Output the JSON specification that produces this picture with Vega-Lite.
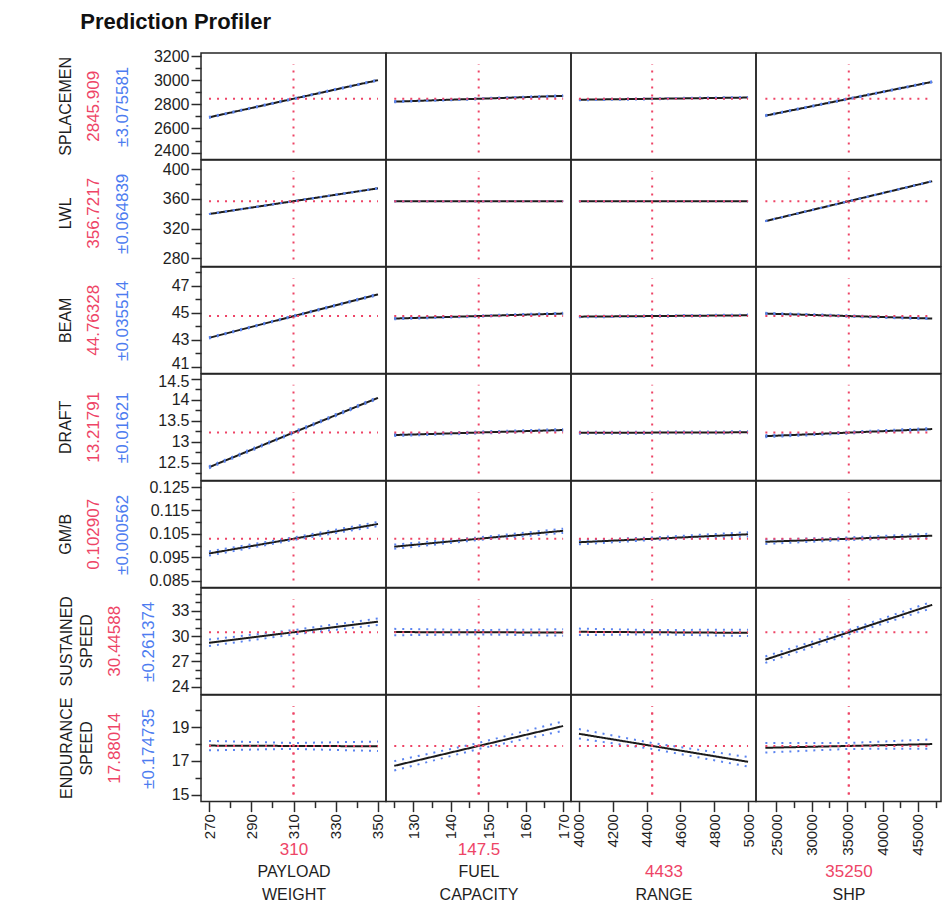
{
"$schema":"https://vega.github.io/schema/vega-lite/v6.json",
"padding":{"left":57,"top":11,"right":4,"bottom":4},
"background":"#ffffff",
"title":{"text":"Prediction Profiler","anchor":"start","frame":"bounds","fontSize":22,"fontWeight":"bold","color":"#111111","offset":13,"dx":23},
"data":{"values":[
{"r":"DI","c":"PW","k":"fit","x":270,"y":2692},{"r":"DI","c":"PW","k":"fit","x":350,"y":3000},
{"r":"DI","c":"PW","k":"lower","x":270,"y":2687.4},{"r":"DI","c":"PW","k":"lower","x":350,"y":2995.4},
{"r":"DI","c":"PW","k":"upper","x":270,"y":2696.6},{"r":"DI","c":"PW","k":"upper","x":350,"y":3004.6},
{"r":"DI","c":"PW","k":"vline","x":310,"y":2400},{"r":"DI","c":"PW","k":"vline","x":310,"y":3134},
{"r":"DI","c":"PW","k":"hline","x":270,"y":2845.909},{"r":"DI","c":"PW","k":"hline","x":350,"y":2845.909},
{"r":"DI","c":"FC","k":"fit","x":125,"y":2822},{"r":"DI","c":"FC","k":"fit","x":170,"y":2870},
{"r":"DI","c":"FC","k":"lower","x":125,"y":2817.4},{"r":"DI","c":"FC","k":"lower","x":170,"y":2865.4},
{"r":"DI","c":"FC","k":"upper","x":125,"y":2826.6},{"r":"DI","c":"FC","k":"upper","x":170,"y":2874.6},
{"r":"DI","c":"FC","k":"vline","x":147.5,"y":2400},{"r":"DI","c":"FC","k":"vline","x":147.5,"y":3134},
{"r":"DI","c":"FC","k":"hline","x":125,"y":2845.909},{"r":"DI","c":"FC","k":"hline","x":170,"y":2845.909},
{"r":"DI","c":"RA","k":"fit","x":4000,"y":2838},{"r":"DI","c":"RA","k":"fit","x":5000,"y":2856},
{"r":"DI","c":"RA","k":"lower","x":4000,"y":2833.4},{"r":"DI","c":"RA","k":"lower","x":5000,"y":2851.4},
{"r":"DI","c":"RA","k":"upper","x":4000,"y":2842.6},{"r":"DI","c":"RA","k":"upper","x":5000,"y":2860.6},
{"r":"DI","c":"RA","k":"vline","x":4433,"y":2400},{"r":"DI","c":"RA","k":"vline","x":4433,"y":3134},
{"r":"DI","c":"RA","k":"hline","x":4000,"y":2845.909},{"r":"DI","c":"RA","k":"hline","x":5000,"y":2845.909},
{"r":"DI","c":"SH","k":"fit","x":23500,"y":2706},{"r":"DI","c":"SH","k":"fit","x":47000,"y":2986},
{"r":"DI","c":"SH","k":"lower","x":23500,"y":2701.4},{"r":"DI","c":"SH","k":"lower","x":47000,"y":2981.4},
{"r":"DI","c":"SH","k":"upper","x":23500,"y":2710.6},{"r":"DI","c":"SH","k":"upper","x":47000,"y":2990.6},
{"r":"DI","c":"SH","k":"vline","x":35250,"y":2400},{"r":"DI","c":"SH","k":"vline","x":35250,"y":3134},
{"r":"DI","c":"SH","k":"hline","x":23500,"y":2845.909},{"r":"DI","c":"SH","k":"hline","x":47000,"y":2845.909},

{"r":"LW","c":"PW","k":"fit","x":270,"y":339.5},{"r":"LW","c":"PW","k":"fit","x":350,"y":374},
{"r":"LW","c":"PW","k":"lower","x":270,"y":339.4},{"r":"LW","c":"PW","k":"lower","x":350,"y":373.9},
{"r":"LW","c":"PW","k":"upper","x":270,"y":339.6},{"r":"LW","c":"PW","k":"upper","x":350,"y":374.1},
{"r":"LW","c":"PW","k":"vline","x":310,"y":278.4},{"r":"LW","c":"PW","k":"vline","x":310,"y":397.2},
{"r":"LW","c":"PW","k":"hline","x":270,"y":356.7217},{"r":"LW","c":"PW","k":"hline","x":350,"y":356.7217},
{"r":"LW","c":"FC","k":"fit","x":125,"y":356.7},{"r":"LW","c":"FC","k":"fit","x":170,"y":356.75},
{"r":"LW","c":"FC","k":"lower","x":125,"y":356.6},{"r":"LW","c":"FC","k":"lower","x":170,"y":356.65},
{"r":"LW","c":"FC","k":"upper","x":125,"y":356.8},{"r":"LW","c":"FC","k":"upper","x":170,"y":356.85},
{"r":"LW","c":"FC","k":"vline","x":147.5,"y":278.4},{"r":"LW","c":"FC","k":"vline","x":147.5,"y":397.2},
{"r":"LW","c":"FC","k":"hline","x":125,"y":356.7217},{"r":"LW","c":"FC","k":"hline","x":170,"y":356.7217},
{"r":"LW","c":"RA","k":"fit","x":4000,"y":356.72},{"r":"LW","c":"RA","k":"fit","x":5000,"y":356.72},
{"r":"LW","c":"RA","k":"lower","x":4000,"y":356.62},{"r":"LW","c":"RA","k":"lower","x":5000,"y":356.62},
{"r":"LW","c":"RA","k":"upper","x":4000,"y":356.82},{"r":"LW","c":"RA","k":"upper","x":5000,"y":356.82},
{"r":"LW","c":"RA","k":"vline","x":4433,"y":278.4},{"r":"LW","c":"RA","k":"vline","x":4433,"y":397.2},
{"r":"LW","c":"RA","k":"hline","x":4000,"y":356.7217},{"r":"LW","c":"RA","k":"hline","x":5000,"y":356.7217},
{"r":"LW","c":"SH","k":"fit","x":23500,"y":330},{"r":"LW","c":"SH","k":"fit","x":47000,"y":383.5},
{"r":"LW","c":"SH","k":"lower","x":23500,"y":329.9},{"r":"LW","c":"SH","k":"lower","x":47000,"y":383.4},
{"r":"LW","c":"SH","k":"upper","x":23500,"y":330.1},{"r":"LW","c":"SH","k":"upper","x":47000,"y":383.6},
{"r":"LW","c":"SH","k":"vline","x":35250,"y":278.4},{"r":"LW","c":"SH","k":"vline","x":35250,"y":397.2},
{"r":"LW","c":"SH","k":"hline","x":23500,"y":356.7217},{"r":"LW","c":"SH","k":"hline","x":47000,"y":356.7217},

{"r":"BE","c":"PW","k":"fit","x":270,"y":43.15},{"r":"BE","c":"PW","k":"fit","x":350,"y":46.37},
{"r":"BE","c":"PW","k":"lower","x":270,"y":43.097},{"r":"BE","c":"PW","k":"lower","x":350,"y":46.317},
{"r":"BE","c":"PW","k":"upper","x":270,"y":43.203},{"r":"BE","c":"PW","k":"upper","x":350,"y":46.423},
{"r":"BE","c":"PW","k":"vline","x":310,"y":41.02},{"r":"BE","c":"PW","k":"vline","x":310,"y":47.58},
{"r":"BE","c":"PW","k":"hline","x":270,"y":44.76328},{"r":"BE","c":"PW","k":"hline","x":350,"y":44.76328},
{"r":"BE","c":"FC","k":"fit","x":125,"y":44.58},{"r":"BE","c":"FC","k":"fit","x":170,"y":44.95},
{"r":"BE","c":"FC","k":"lower","x":125,"y":44.527},{"r":"BE","c":"FC","k":"lower","x":170,"y":44.897},
{"r":"BE","c":"FC","k":"upper","x":125,"y":44.633},{"r":"BE","c":"FC","k":"upper","x":170,"y":45.003},
{"r":"BE","c":"FC","k":"vline","x":147.5,"y":41.02},{"r":"BE","c":"FC","k":"vline","x":147.5,"y":47.58},
{"r":"BE","c":"FC","k":"hline","x":125,"y":44.76328},{"r":"BE","c":"FC","k":"hline","x":170,"y":44.76328},
{"r":"BE","c":"RA","k":"fit","x":4000,"y":44.72},{"r":"BE","c":"RA","k":"fit","x":5000,"y":44.82},
{"r":"BE","c":"RA","k":"lower","x":4000,"y":44.667},{"r":"BE","c":"RA","k":"lower","x":5000,"y":44.767},
{"r":"BE","c":"RA","k":"upper","x":4000,"y":44.773},{"r":"BE","c":"RA","k":"upper","x":5000,"y":44.873},
{"r":"BE","c":"RA","k":"vline","x":4433,"y":41.02},{"r":"BE","c":"RA","k":"vline","x":4433,"y":47.58},
{"r":"BE","c":"RA","k":"hline","x":4000,"y":44.76328},{"r":"BE","c":"RA","k":"hline","x":5000,"y":44.76328},
{"r":"BE","c":"SH","k":"fit","x":23500,"y":44.95},{"r":"BE","c":"SH","k":"fit","x":47000,"y":44.58},
{"r":"BE","c":"SH","k":"lower","x":23500,"y":44.897},{"r":"BE","c":"SH","k":"lower","x":47000,"y":44.527},
{"r":"BE","c":"SH","k":"upper","x":23500,"y":45.003},{"r":"BE","c":"SH","k":"upper","x":47000,"y":44.633},
{"r":"BE","c":"SH","k":"vline","x":35250,"y":41.02},{"r":"BE","c":"SH","k":"vline","x":35250,"y":47.58},
{"r":"BE","c":"SH","k":"hline","x":23500,"y":44.76328},{"r":"BE","c":"SH","k":"hline","x":47000,"y":44.76328},

{"r":"DR","c":"PW","k":"fit","x":270,"y":12.39},{"r":"DR","c":"PW","k":"fit","x":350,"y":14.05},
{"r":"DR","c":"PW","k":"lower","x":270,"y":12.366},{"r":"DR","c":"PW","k":"lower","x":350,"y":14.026},
{"r":"DR","c":"PW","k":"upper","x":270,"y":12.414},{"r":"DR","c":"PW","k":"upper","x":350,"y":14.074},
{"r":"DR","c":"PW","k":"vline","x":310,"y":12.24},{"r":"DR","c":"PW","k":"vline","x":310,"y":14.36},
{"r":"DR","c":"PW","k":"hline","x":270,"y":13.21791},{"r":"DR","c":"PW","k":"hline","x":350,"y":13.21791},
{"r":"DR","c":"FC","k":"fit","x":125,"y":13.16},{"r":"DR","c":"FC","k":"fit","x":170,"y":13.28},
{"r":"DR","c":"FC","k":"lower","x":125,"y":13.136},{"r":"DR","c":"FC","k":"lower","x":170,"y":13.256},
{"r":"DR","c":"FC","k":"upper","x":125,"y":13.184},{"r":"DR","c":"FC","k":"upper","x":170,"y":13.304},
{"r":"DR","c":"FC","k":"vline","x":147.5,"y":12.24},{"r":"DR","c":"FC","k":"vline","x":147.5,"y":14.36},
{"r":"DR","c":"FC","k":"hline","x":125,"y":13.21791},{"r":"DR","c":"FC","k":"hline","x":170,"y":13.21791},
{"r":"DR","c":"RA","k":"fit","x":4000,"y":13.212},{"r":"DR","c":"RA","k":"fit","x":5000,"y":13.225},
{"r":"DR","c":"RA","k":"lower","x":4000,"y":13.188},{"r":"DR","c":"RA","k":"lower","x":5000,"y":13.201},
{"r":"DR","c":"RA","k":"upper","x":4000,"y":13.236},{"r":"DR","c":"RA","k":"upper","x":5000,"y":13.249},
{"r":"DR","c":"RA","k":"vline","x":4433,"y":12.24},{"r":"DR","c":"RA","k":"vline","x":4433,"y":14.36},
{"r":"DR","c":"RA","k":"hline","x":4000,"y":13.21791},{"r":"DR","c":"RA","k":"hline","x":5000,"y":13.21791},
{"r":"DR","c":"SH","k":"fit","x":23500,"y":13.133},{"r":"DR","c":"SH","k":"fit","x":47000,"y":13.303},
{"r":"DR","c":"SH","k":"lower","x":23500,"y":13.109},{"r":"DR","c":"SH","k":"lower","x":47000,"y":13.279},
{"r":"DR","c":"SH","k":"upper","x":23500,"y":13.157},{"r":"DR","c":"SH","k":"upper","x":47000,"y":13.327},
{"r":"DR","c":"SH","k":"vline","x":35250,"y":12.24},{"r":"DR","c":"SH","k":"vline","x":35250,"y":14.36},
{"r":"DR","c":"SH","k":"hline","x":23500,"y":13.21791},{"r":"DR","c":"SH","k":"hline","x":47000,"y":13.21791},

{"r":"GM","c":"PW","k":"fit","x":270,"y":0.0966},{"r":"GM","c":"PW","k":"fit","x":350,"y":0.1092},
{"r":"GM","c":"PW","k":"lower","x":270,"y":0.0957},{"r":"GM","c":"PW","k":"lower","x":310,"y":0.10235},{"r":"GM","c":"PW","k":"lower","x":350,"y":0.1083},
{"r":"GM","c":"PW","k":"upper","x":270,"y":0.0975},{"r":"GM","c":"PW","k":"upper","x":310,"y":0.10347},{"r":"GM","c":"PW","k":"upper","x":350,"y":0.1101},
{"r":"GM","c":"PW","k":"vline","x":310,"y":0.085},{"r":"GM","c":"PW","k":"vline","x":310,"y":0.1229},
{"r":"GM","c":"PW","k":"hline","x":270,"y":0.102907},{"r":"GM","c":"PW","k":"hline","x":350,"y":0.102907},
{"r":"GM","c":"FC","k":"fit","x":125,"y":0.0995},{"r":"GM","c":"FC","k":"fit","x":170,"y":0.1063},
{"r":"GM","c":"FC","k":"lower","x":125,"y":0.0986},{"r":"GM","c":"FC","k":"lower","x":147.5,"y":0.10235},{"r":"GM","c":"FC","k":"lower","x":170,"y":0.1054},
{"r":"GM","c":"FC","k":"upper","x":125,"y":0.1004},{"r":"GM","c":"FC","k":"upper","x":147.5,"y":0.10347},{"r":"GM","c":"FC","k":"upper","x":170,"y":0.1072},
{"r":"GM","c":"FC","k":"vline","x":147.5,"y":0.085},{"r":"GM","c":"FC","k":"vline","x":147.5,"y":0.1229},
{"r":"GM","c":"FC","k":"hline","x":125,"y":0.102907},{"r":"GM","c":"FC","k":"hline","x":170,"y":0.102907},
{"r":"GM","c":"RA","k":"fit","x":4000,"y":0.1014},{"r":"GM","c":"RA","k":"fit","x":5000,"y":0.1048},
{"r":"GM","c":"RA","k":"lower","x":4000,"y":0.1005},{"r":"GM","c":"RA","k":"lower","x":4433,"y":0.10235},{"r":"GM","c":"RA","k":"lower","x":5000,"y":0.1039},
{"r":"GM","c":"RA","k":"upper","x":4000,"y":0.1023},{"r":"GM","c":"RA","k":"upper","x":4433,"y":0.10347},{"r":"GM","c":"RA","k":"upper","x":5000,"y":0.1057},
{"r":"GM","c":"RA","k":"vline","x":4433,"y":0.085},{"r":"GM","c":"RA","k":"vline","x":4433,"y":0.1229},
{"r":"GM","c":"RA","k":"hline","x":4000,"y":0.102907},{"r":"GM","c":"RA","k":"hline","x":5000,"y":0.102907},
{"r":"GM","c":"SH","k":"fit","x":23500,"y":0.1016},{"r":"GM","c":"SH","k":"fit","x":47000,"y":0.1042},
{"r":"GM","c":"SH","k":"lower","x":23500,"y":0.1007},{"r":"GM","c":"SH","k":"lower","x":35250,"y":0.10235},{"r":"GM","c":"SH","k":"lower","x":47000,"y":0.1033},
{"r":"GM","c":"SH","k":"upper","x":23500,"y":0.1025},{"r":"GM","c":"SH","k":"upper","x":35250,"y":0.10347},{"r":"GM","c":"SH","k":"upper","x":47000,"y":0.1051},
{"r":"GM","c":"SH","k":"vline","x":35250,"y":0.085},{"r":"GM","c":"SH","k":"vline","x":35250,"y":0.1229},
{"r":"GM","c":"SH","k":"hline","x":23500,"y":0.102907},{"r":"GM","c":"SH","k":"hline","x":47000,"y":0.102907},

{"r":"SS","c":"PW","k":"fit","x":270,"y":29.2},{"r":"SS","c":"PW","k":"fit","x":350,"y":31.7},
{"r":"SS","c":"PW","k":"lower","x":270,"y":28.82},{"r":"SS","c":"PW","k":"lower","x":310,"y":30.19},{"r":"SS","c":"PW","k":"lower","x":350,"y":31.32},
{"r":"SS","c":"PW","k":"upper","x":270,"y":29.58},{"r":"SS","c":"PW","k":"upper","x":310,"y":30.71},{"r":"SS","c":"PW","k":"upper","x":350,"y":32.08},
{"r":"SS","c":"PW","k":"vline","x":310,"y":23.88},{"r":"SS","c":"PW","k":"vline","x":310,"y":34.4},
{"r":"SS","c":"PW","k":"hline","x":270,"y":30.44588},{"r":"SS","c":"PW","k":"hline","x":350,"y":30.44588},
{"r":"SS","c":"FC","k":"fit","x":125,"y":30.47},{"r":"SS","c":"FC","k":"fit","x":170,"y":30.42},
{"r":"SS","c":"FC","k":"lower","x":125,"y":30.09},{"r":"SS","c":"FC","k":"lower","x":147.5,"y":30.19},{"r":"SS","c":"FC","k":"lower","x":170,"y":30.04},
{"r":"SS","c":"FC","k":"upper","x":125,"y":30.85},{"r":"SS","c":"FC","k":"upper","x":147.5,"y":30.71},{"r":"SS","c":"FC","k":"upper","x":170,"y":30.8},
{"r":"SS","c":"FC","k":"vline","x":147.5,"y":23.88},{"r":"SS","c":"FC","k":"vline","x":147.5,"y":34.4},
{"r":"SS","c":"FC","k":"hline","x":125,"y":30.44588},{"r":"SS","c":"FC","k":"hline","x":170,"y":30.44588},
{"r":"SS","c":"RA","k":"fit","x":4000,"y":30.5},{"r":"SS","c":"RA","k":"fit","x":5000,"y":30.38},
{"r":"SS","c":"RA","k":"lower","x":4000,"y":30.12},{"r":"SS","c":"RA","k":"lower","x":4433,"y":30.19},{"r":"SS","c":"RA","k":"lower","x":5000,"y":30.0},
{"r":"SS","c":"RA","k":"upper","x":4000,"y":30.88},{"r":"SS","c":"RA","k":"upper","x":4433,"y":30.71},{"r":"SS","c":"RA","k":"upper","x":5000,"y":30.76},
{"r":"SS","c":"RA","k":"vline","x":4433,"y":23.88},{"r":"SS","c":"RA","k":"vline","x":4433,"y":34.4},
{"r":"SS","c":"RA","k":"hline","x":4000,"y":30.44588},{"r":"SS","c":"RA","k":"hline","x":5000,"y":30.44588},
{"r":"SS","c":"SH","k":"fit","x":23500,"y":27.2},{"r":"SS","c":"SH","k":"fit","x":47000,"y":33.7},
{"r":"SS","c":"SH","k":"lower","x":23500,"y":26.82},{"r":"SS","c":"SH","k":"lower","x":35250,"y":30.19},{"r":"SS","c":"SH","k":"lower","x":47000,"y":33.32},
{"r":"SS","c":"SH","k":"upper","x":23500,"y":27.58},{"r":"SS","c":"SH","k":"upper","x":35250,"y":30.71},{"r":"SS","c":"SH","k":"upper","x":47000,"y":34.08},
{"r":"SS","c":"SH","k":"vline","x":35250,"y":23.88},{"r":"SS","c":"SH","k":"vline","x":35250,"y":34.4},
{"r":"SS","c":"SH","k":"hline","x":23500,"y":30.44588},{"r":"SS","c":"SH","k":"hline","x":47000,"y":30.44588},

{"r":"ES","c":"PW","k":"fit","x":270,"y":17.9},{"r":"ES","c":"PW","k":"fit","x":350,"y":17.86},
{"r":"ES","c":"PW","k":"lower","x":270,"y":17.62},{"r":"ES","c":"PW","k":"lower","x":310,"y":17.705},{"r":"ES","c":"PW","k":"lower","x":350,"y":17.58},
{"r":"ES","c":"PW","k":"upper","x":270,"y":18.18},{"r":"ES","c":"PW","k":"upper","x":310,"y":18.055},{"r":"ES","c":"PW","k":"upper","x":350,"y":18.14},
{"r":"ES","c":"PW","k":"vline","x":310,"y":15.0},{"r":"ES","c":"PW","k":"vline","x":310,"y":20.25},
{"r":"ES","c":"PW","k":"hline","x":270,"y":17.88014},{"r":"ES","c":"PW","k":"hline","x":350,"y":17.88014},
{"r":"ES","c":"FC","k":"fit","x":125,"y":16.7},{"r":"ES","c":"FC","k":"fit","x":170,"y":19.06},
{"r":"ES","c":"FC","k":"lower","x":125,"y":16.42},{"r":"ES","c":"FC","k":"lower","x":147.5,"y":17.705},{"r":"ES","c":"FC","k":"lower","x":170,"y":18.78},
{"r":"ES","c":"FC","k":"upper","x":125,"y":16.98},{"r":"ES","c":"FC","k":"upper","x":147.5,"y":18.055},{"r":"ES","c":"FC","k":"upper","x":170,"y":19.34},
{"r":"ES","c":"FC","k":"vline","x":147.5,"y":15.0},{"r":"ES","c":"FC","k":"vline","x":147.5,"y":20.25},
{"r":"ES","c":"FC","k":"hline","x":125,"y":17.88014},{"r":"ES","c":"FC","k":"hline","x":170,"y":17.88014},
{"r":"ES","c":"RA","k":"fit","x":4000,"y":18.6},{"r":"ES","c":"RA","k":"fit","x":5000,"y":16.94},
{"r":"ES","c":"RA","k":"lower","x":4000,"y":18.32},{"r":"ES","c":"RA","k":"lower","x":4433,"y":17.705},{"r":"ES","c":"RA","k":"lower","x":5000,"y":16.66},
{"r":"ES","c":"RA","k":"upper","x":4000,"y":18.88},{"r":"ES","c":"RA","k":"upper","x":4433,"y":18.055},{"r":"ES","c":"RA","k":"upper","x":5000,"y":17.22},
{"r":"ES","c":"RA","k":"vline","x":4433,"y":15.0},{"r":"ES","c":"RA","k":"vline","x":4433,"y":20.25},
{"r":"ES","c":"RA","k":"hline","x":4000,"y":17.88014},{"r":"ES","c":"RA","k":"hline","x":5000,"y":17.88014},
{"r":"ES","c":"SH","k":"fit","x":23500,"y":17.77},{"r":"ES","c":"SH","k":"fit","x":47000,"y":17.99},
{"r":"ES","c":"SH","k":"lower","x":23500,"y":17.49},{"r":"ES","c":"SH","k":"lower","x":35250,"y":17.705},{"r":"ES","c":"SH","k":"lower","x":47000,"y":17.71},
{"r":"ES","c":"SH","k":"upper","x":23500,"y":18.05},{"r":"ES","c":"SH","k":"upper","x":35250,"y":18.055},{"r":"ES","c":"SH","k":"upper","x":47000,"y":18.27},
{"r":"ES","c":"SH","k":"vline","x":35250,"y":15.0},{"r":"ES","c":"SH","k":"vline","x":35250,"y":20.25},
{"r":"ES","c":"SH","k":"hline","x":23500,"y":17.88014},{"r":"ES","c":"SH","k":"hline","x":47000,"y":17.88014}
]},
"columns":4,
"spacing":0,
"bounds":"flush",
"align":"each",
"concat":[
{"width":185,"height":106.6,"title":{"text":"SPLACEMEN","subtitle":"2845.909","orient":"left","anchor":"middle","offset":11},"transform":[{"filter":"datum.r=='DI'&&datum.c=='PW'"}],"mark":"line","encoding":{"x":{"field":"x","type":"quantitative","scale":{"domain":[266.2,353.8]},"axis":null},"y":{"field":"y","type":"quantitative","scale":{"domain":[2342,3225]},"axis":{"values":[2400,2500,2600,2700,2800,2900,3000,3100,3200],"format":"d","labelExpr":"datum.value%200==0?datum.label:''","tickSize":{"condition":{"test":"datum.value%200==0","value":10},"value":6},"labelOffset":{"condition":{"test":"datum.value==2400","value":-2},"value":0},"title":"±3.075581","titleColor":"#4d7cf0","titleX":-79,"titleY":53.3}},"detail":{"field":"k"},"color":{"condition":[{"test":"datum.k=='fit'","value":"#1c1c1c"},{"test":"datum.k=='vline'||datum.k=='hline'","value":"#ee4466"}],"value":"#5b84f0"},"strokeDash":{"condition":{"test":"datum.k=='fit'","value":[1,0]},"value":[2,6]}}},
{"width":185,"height":106.6,"transform":[{"filter":"datum.r=='DI'&&datum.c=='FC'"}],"mark":"line","encoding":{"x":{"field":"x","type":"quantitative","scale":{"domain":[122.8,172.1]},"axis":null},"y":{"field":"y","type":"quantitative","scale":{"domain":[2342,3225]},"axis":null},"detail":{"field":"k"},"color":{"condition":[{"test":"datum.k=='fit'","value":"#1c1c1c"},{"test":"datum.k=='vline'||datum.k=='hline'","value":"#ee4466"}],"value":"#5b84f0"},"strokeDash":{"condition":{"test":"datum.k=='fit'","value":[1,0]},"value":[2,6]}}},
{"width":185,"height":106.6,"transform":[{"filter":"datum.r=='DI'&&datum.c=='RA'"}],"mark":"line","encoding":{"x":{"field":"x","type":"quantitative","scale":{"domain":[3953,5047]},"axis":null},"y":{"field":"y","type":"quantitative","scale":{"domain":[2342,3225]},"axis":null},"detail":{"field":"k"},"color":{"condition":[{"test":"datum.k=='fit'","value":"#1c1c1c"},{"test":"datum.k=='vline'||datum.k=='hline'","value":"#ee4466"}],"value":"#5b84f0"},"strokeDash":{"condition":{"test":"datum.k=='fit'","value":[1,0]},"value":[2,6]}}},
{"width":185,"height":106.6,"transform":[{"filter":"datum.r=='DI'&&datum.c=='SH'"}],"mark":"line","encoding":{"x":{"field":"x","type":"quantitative","scale":{"domain":[22180,48240]},"axis":null},"y":{"field":"y","type":"quantitative","scale":{"domain":[2342,3225]},"axis":null},"detail":{"field":"k"},"color":{"condition":[{"test":"datum.k=='fit'","value":"#1c1c1c"},{"test":"datum.k=='vline'||datum.k=='hline'","value":"#ee4466"}],"value":"#5b84f0"},"strokeDash":{"condition":{"test":"datum.k=='fit'","value":[1,0]},"value":[2,6]}}},

{"width":185,"height":106.6,"title":{"text":"LWL","subtitle":"356.7217","orient":"left","anchor":"middle","offset":11},"transform":[{"filter":"datum.r=='LW'&&datum.c=='PW'"}],"mark":"line","encoding":{"x":{"field":"x","type":"quantitative","scale":{"domain":[266.2,353.8]},"axis":null},"y":{"field":"y","type":"quantitative","scale":{"domain":[269,412]},"axis":{"values":[280,300,320,340,360,380,400],"format":"d","labelExpr":"datum.value%40==0?datum.label:''","tickSize":{"condition":{"test":"datum.value%40==0","value":10},"value":6},"labelOffset":{"condition":{"test":"datum.value==400","value":1},"value":0},"title":"±0.064839","titleColor":"#4d7cf0","titleX":-79,"titleY":53.3}},"detail":{"field":"k"},"color":{"condition":[{"test":"datum.k=='fit'","value":"#1c1c1c"},{"test":"datum.k=='vline'||datum.k=='hline'","value":"#ee4466"}],"value":"#5b84f0"},"strokeDash":{"condition":{"test":"datum.k=='fit'","value":[1,0]},"value":[2,6]}}},
{"width":185,"height":106.6,"transform":[{"filter":"datum.r=='LW'&&datum.c=='FC'"}],"mark":"line","encoding":{"x":{"field":"x","type":"quantitative","scale":{"domain":[122.8,172.1]},"axis":null},"y":{"field":"y","type":"quantitative","scale":{"domain":[269,412]},"axis":null},"detail":{"field":"k"},"color":{"condition":[{"test":"datum.k=='fit'","value":"#1c1c1c"},{"test":"datum.k=='vline'||datum.k=='hline'","value":"#ee4466"}],"value":"#5b84f0"},"strokeDash":{"condition":{"test":"datum.k=='fit'","value":[1,0]},"value":[2,6]}}},
{"width":185,"height":106.6,"transform":[{"filter":"datum.r=='LW'&&datum.c=='RA'"}],"mark":"line","encoding":{"x":{"field":"x","type":"quantitative","scale":{"domain":[3953,5047]},"axis":null},"y":{"field":"y","type":"quantitative","scale":{"domain":[269,412]},"axis":null},"detail":{"field":"k"},"color":{"condition":[{"test":"datum.k=='fit'","value":"#1c1c1c"},{"test":"datum.k=='vline'||datum.k=='hline'","value":"#ee4466"}],"value":"#5b84f0"},"strokeDash":{"condition":{"test":"datum.k=='fit'","value":[1,0]},"value":[2,6]}}},
{"width":185,"height":106.6,"transform":[{"filter":"datum.r=='LW'&&datum.c=='SH'"}],"mark":"line","encoding":{"x":{"field":"x","type":"quantitative","scale":{"domain":[22180,48240]},"axis":null},"y":{"field":"y","type":"quantitative","scale":{"domain":[269,412]},"axis":null},"detail":{"field":"k"},"color":{"condition":[{"test":"datum.k=='fit'","value":"#1c1c1c"},{"test":"datum.k=='vline'||datum.k=='hline'","value":"#ee4466"}],"value":"#5b84f0"},"strokeDash":{"condition":{"test":"datum.k=='fit'","value":[1,0]},"value":[2,6]}}},

{"width":185,"height":106.6,"title":{"text":"BEAM","subtitle":"44.76328","orient":"left","anchor":"middle","offset":11},"transform":[{"filter":"datum.r=='BE'&&datum.c=='PW'"}],"mark":"line","encoding":{"x":{"field":"x","type":"quantitative","scale":{"domain":[266.2,353.8]},"axis":null},"y":{"field":"y","type":"quantitative","scale":{"domain":[40.5,48.4]},"axis":{"values":[41,42,43,44,45,46,47,48],"format":"d","labelExpr":"datum.value%2==1?datum.label:''","tickSize":{"condition":{"test":"datum.value%2==1","value":10},"value":6},"labelOffset":{"condition":{"test":"datum.value==41","value":-3},"value":0},"title":"±0.035514","titleColor":"#4d7cf0","titleX":-79,"titleY":53.3}},"detail":{"field":"k"},"color":{"condition":[{"test":"datum.k=='fit'","value":"#1c1c1c"},{"test":"datum.k=='vline'||datum.k=='hline'","value":"#ee4466"}],"value":"#5b84f0"},"strokeDash":{"condition":{"test":"datum.k=='fit'","value":[1,0]},"value":[2,6]}}},
{"width":185,"height":106.6,"transform":[{"filter":"datum.r=='BE'&&datum.c=='FC'"}],"mark":"line","encoding":{"x":{"field":"x","type":"quantitative","scale":{"domain":[122.8,172.1]},"axis":null},"y":{"field":"y","type":"quantitative","scale":{"domain":[40.5,48.4]},"axis":null},"detail":{"field":"k"},"color":{"condition":[{"test":"datum.k=='fit'","value":"#1c1c1c"},{"test":"datum.k=='vline'||datum.k=='hline'","value":"#ee4466"}],"value":"#5b84f0"},"strokeDash":{"condition":{"test":"datum.k=='fit'","value":[1,0]},"value":[2,6]}}},
{"width":185,"height":106.6,"transform":[{"filter":"datum.r=='BE'&&datum.c=='RA'"}],"mark":"line","encoding":{"x":{"field":"x","type":"quantitative","scale":{"domain":[3953,5047]},"axis":null},"y":{"field":"y","type":"quantitative","scale":{"domain":[40.5,48.4]},"axis":null},"detail":{"field":"k"},"color":{"condition":[{"test":"datum.k=='fit'","value":"#1c1c1c"},{"test":"datum.k=='vline'||datum.k=='hline'","value":"#ee4466"}],"value":"#5b84f0"},"strokeDash":{"condition":{"test":"datum.k=='fit'","value":[1,0]},"value":[2,6]}}},
{"width":185,"height":106.6,"transform":[{"filter":"datum.r=='BE'&&datum.c=='SH'"}],"mark":"line","encoding":{"x":{"field":"x","type":"quantitative","scale":{"domain":[22180,48240]},"axis":null},"y":{"field":"y","type":"quantitative","scale":{"domain":[40.5,48.4]},"axis":null},"detail":{"field":"k"},"color":{"condition":[{"test":"datum.k=='fit'","value":"#1c1c1c"},{"test":"datum.k=='vline'||datum.k=='hline'","value":"#ee4466"}],"value":"#5b84f0"},"strokeDash":{"condition":{"test":"datum.k=='fit'","value":[1,0]},"value":[2,6]}}},

{"width":185,"height":106.6,"title":{"text":"DRAFT","subtitle":"13.21791","orient":"left","anchor":"middle","offset":11},"transform":[{"filter":"datum.r=='DR'&&datum.c=='PW'"}],"mark":"line","encoding":{"x":{"field":"x","type":"quantitative","scale":{"domain":[266.2,353.8]},"axis":null},"y":{"field":"y","type":"quantitative","scale":{"domain":[12.07,14.62]},"axis":{"values":[12.25,12.5,12.75,13,13.25,13.5,13.75,14,14.25,14.5],"format":"~g","labelExpr":"datum.value%0.5==0?datum.label:''","tickSize":{"condition":{"test":"datum.value%0.5==0","value":10},"value":6},"labelOffset":{"condition":{"test":"datum.value==14.5","value":2},"value":0},"title":"±0.01621","titleColor":"#4d7cf0","titleX":-79,"titleY":53.3}},"detail":{"field":"k"},"color":{"condition":[{"test":"datum.k=='fit'","value":"#1c1c1c"},{"test":"datum.k=='vline'||datum.k=='hline'","value":"#ee4466"}],"value":"#5b84f0"},"strokeDash":{"condition":{"test":"datum.k=='fit'","value":[1,0]},"value":[2,6]}}},
{"width":185,"height":106.6,"transform":[{"filter":"datum.r=='DR'&&datum.c=='FC'"}],"mark":"line","encoding":{"x":{"field":"x","type":"quantitative","scale":{"domain":[122.8,172.1]},"axis":null},"y":{"field":"y","type":"quantitative","scale":{"domain":[12.07,14.62]},"axis":null},"detail":{"field":"k"},"color":{"condition":[{"test":"datum.k=='fit'","value":"#1c1c1c"},{"test":"datum.k=='vline'||datum.k=='hline'","value":"#ee4466"}],"value":"#5b84f0"},"strokeDash":{"condition":{"test":"datum.k=='fit'","value":[1,0]},"value":[2,6]}}},
{"width":185,"height":106.6,"transform":[{"filter":"datum.r=='DR'&&datum.c=='RA'"}],"mark":"line","encoding":{"x":{"field":"x","type":"quantitative","scale":{"domain":[3953,5047]},"axis":null},"y":{"field":"y","type":"quantitative","scale":{"domain":[12.07,14.62]},"axis":null},"detail":{"field":"k"},"color":{"condition":[{"test":"datum.k=='fit'","value":"#1c1c1c"},{"test":"datum.k=='vline'||datum.k=='hline'","value":"#ee4466"}],"value":"#5b84f0"},"strokeDash":{"condition":{"test":"datum.k=='fit'","value":[1,0]},"value":[2,6]}}},
{"width":185,"height":106.6,"transform":[{"filter":"datum.r=='DR'&&datum.c=='SH'"}],"mark":"line","encoding":{"x":{"field":"x","type":"quantitative","scale":{"domain":[22180,48240]},"axis":null},"y":{"field":"y","type":"quantitative","scale":{"domain":[12.07,14.62]},"axis":null},"detail":{"field":"k"},"color":{"condition":[{"test":"datum.k=='fit'","value":"#1c1c1c"},{"test":"datum.k=='vline'||datum.k=='hline'","value":"#ee4466"}],"value":"#5b84f0"},"strokeDash":{"condition":{"test":"datum.k=='fit'","value":[1,0]},"value":[2,6]}}},

{"width":185,"height":106.6,"title":{"text":"GM/B","subtitle":"0.102907","orient":"left","anchor":"middle","offset":11},"transform":[{"filter":"datum.r=='GM'&&datum.c=='PW'"}],"mark":"line","encoding":{"x":{"field":"x","type":"quantitative","scale":{"domain":[266.2,353.8]},"axis":null},"y":{"field":"y","type":"quantitative","scale":{"domain":[0.082,0.1276]},"axis":{"values":[0.085,0.09,0.095,0.1,0.105,0.11,0.115,0.12,0.125],"format":".3f","labelExpr":"round(datum.value*1000)%10==5?datum.label:''","tickSize":{"condition":{"test":"round(datum.value*1000)%10==5","value":10},"value":6},"title":"±0.000562","titleColor":"#4d7cf0","titleX":-79,"titleY":53.3}},"detail":{"field":"k"},"color":{"condition":[{"test":"datum.k=='fit'","value":"#1c1c1c"},{"test":"datum.k=='vline'||datum.k=='hline'","value":"#ee4466"}],"value":"#5b84f0"},"strokeDash":{"condition":{"test":"datum.k=='fit'","value":[1,0]},"value":[2,6]}}},
{"width":185,"height":106.6,"transform":[{"filter":"datum.r=='GM'&&datum.c=='FC'"}],"mark":"line","encoding":{"x":{"field":"x","type":"quantitative","scale":{"domain":[122.8,172.1]},"axis":null},"y":{"field":"y","type":"quantitative","scale":{"domain":[0.082,0.1276]},"axis":null},"detail":{"field":"k"},"color":{"condition":[{"test":"datum.k=='fit'","value":"#1c1c1c"},{"test":"datum.k=='vline'||datum.k=='hline'","value":"#ee4466"}],"value":"#5b84f0"},"strokeDash":{"condition":{"test":"datum.k=='fit'","value":[1,0]},"value":[2,6]}}},
{"width":185,"height":106.6,"transform":[{"filter":"datum.r=='GM'&&datum.c=='RA'"}],"mark":"line","encoding":{"x":{"field":"x","type":"quantitative","scale":{"domain":[3953,5047]},"axis":null},"y":{"field":"y","type":"quantitative","scale":{"domain":[0.082,0.1276]},"axis":null},"detail":{"field":"k"},"color":{"condition":[{"test":"datum.k=='fit'","value":"#1c1c1c"},{"test":"datum.k=='vline'||datum.k=='hline'","value":"#ee4466"}],"value":"#5b84f0"},"strokeDash":{"condition":{"test":"datum.k=='fit'","value":[1,0]},"value":[2,6]}}},
{"width":185,"height":106.6,"transform":[{"filter":"datum.r=='GM'&&datum.c=='SH'"}],"mark":"line","encoding":{"x":{"field":"x","type":"quantitative","scale":{"domain":[22180,48240]},"axis":null},"y":{"field":"y","type":"quantitative","scale":{"domain":[0.082,0.1276]},"axis":null},"detail":{"field":"k"},"color":{"condition":[{"test":"datum.k=='fit'","value":"#1c1c1c"},{"test":"datum.k=='vline'||datum.k=='hline'","value":"#ee4466"}],"value":"#5b84f0"},"strokeDash":{"condition":{"test":"datum.k=='fit'","value":[1,0]},"value":[2,6]}}},

{"width":185,"height":106.6,"title":{"text":["SUSTAINED","SPEED"],"subtitle":"30.44588","orient":"left","anchor":"middle","offset":17},"transform":[{"filter":"datum.r=='SS'&&datum.c=='PW'"}],"mark":"line","encoding":{"x":{"field":"x","type":"quantitative","scale":{"domain":[266.2,353.8]},"axis":null},"y":{"field":"y","type":"quantitative","scale":{"domain":[23.05,35.7]},"axis":{"values":[24,25,26,27,28,29,30,31,32,33,34,35],"format":"d","labelExpr":"(datum.value-24)%3==0?datum.label:''","tickSize":{"condition":{"test":"(datum.value-24)%3==0","value":10},"value":6},"title":"±0.261374","titleColor":"#4d7cf0","titleX":-52.5,"titleY":53.3}},"detail":{"field":"k"},"color":{"condition":[{"test":"datum.k=='fit'","value":"#1c1c1c"},{"test":"datum.k=='vline'||datum.k=='hline'","value":"#ee4466"}],"value":"#5b84f0"},"strokeDash":{"condition":{"test":"datum.k=='fit'","value":[1,0]},"value":[2,6]}}},
{"width":185,"height":106.6,"transform":[{"filter":"datum.r=='SS'&&datum.c=='FC'"}],"mark":"line","encoding":{"x":{"field":"x","type":"quantitative","scale":{"domain":[122.8,172.1]},"axis":null},"y":{"field":"y","type":"quantitative","scale":{"domain":[23.05,35.7]},"axis":null},"detail":{"field":"k"},"color":{"condition":[{"test":"datum.k=='fit'","value":"#1c1c1c"},{"test":"datum.k=='vline'||datum.k=='hline'","value":"#ee4466"}],"value":"#5b84f0"},"strokeDash":{"condition":{"test":"datum.k=='fit'","value":[1,0]},"value":[2,6]}}},
{"width":185,"height":106.6,"transform":[{"filter":"datum.r=='SS'&&datum.c=='RA'"}],"mark":"line","encoding":{"x":{"field":"x","type":"quantitative","scale":{"domain":[3953,5047]},"axis":null},"y":{"field":"y","type":"quantitative","scale":{"domain":[23.05,35.7]},"axis":null},"detail":{"field":"k"},"color":{"condition":[{"test":"datum.k=='fit'","value":"#1c1c1c"},{"test":"datum.k=='vline'||datum.k=='hline'","value":"#ee4466"}],"value":"#5b84f0"},"strokeDash":{"condition":{"test":"datum.k=='fit'","value":[1,0]},"value":[2,6]}}},
{"width":185,"height":106.6,"transform":[{"filter":"datum.r=='SS'&&datum.c=='SH'"}],"mark":"line","encoding":{"x":{"field":"x","type":"quantitative","scale":{"domain":[22180,48240]},"axis":null},"y":{"field":"y","type":"quantitative","scale":{"domain":[23.05,35.7]},"axis":null},"detail":{"field":"k"},"color":{"condition":[{"test":"datum.k=='fit'","value":"#1c1c1c"},{"test":"datum.k=='vline'||datum.k=='hline'","value":"#ee4466"}],"value":"#5b84f0"},"strokeDash":{"condition":{"test":"datum.k=='fit'","value":[1,0]},"value":[2,6]}}},

{"width":185,"height":106.6,"title":{"text":["ENDURANCE","SPEED"],"subtitle":"17.88014","orient":"left","anchor":"middle","offset":17},"transform":[{"filter":"datum.r=='ES'&&datum.c=='PW'"}],
 "encoding":{"x":{"field":"x","type":"quantitative","scale":{"domain":[266.2,353.8]},"axis":{"values":[270,280,290,300,310,320,330,340,350],"format":"d","labelExpr":"datum.value%20==10?datum.label:''","tickSize":{"condition":{"test":"datum.value%20==10","value":10},"value":6},"title":"310","titleColor":"#ee4466","titleY":40}},"y":{"field":"y","type":"quantitative","scale":{"domain":[14.58,20.9]},"axis":{"values":[15,16,17,18,19,20],"format":"d","labelExpr":"datum.value%2==1?datum.label:''","tickSize":{"condition":{"test":"datum.value%2==1","value":10},"value":6},"title":"±0.174735","titleColor":"#4d7cf0","titleX":-52.5,"titleY":53.3}},"detail":{"field":"k"},"color":{"condition":[{"test":"datum.k=='fit'","value":"#1c1c1c"},{"test":"datum.k=='vline'||datum.k=='hline'","value":"#ee4466"}],"value":"#5b84f0"},"strokeDash":{"condition":{"test":"datum.k=='fit'","value":[1,0]},"value":[2,6]}},
 "layer":[{"mark":"line"},{"transform":[{"filter":"datum.k=='vline'"}],"mark":"line","encoding":{"x":{"field":"x","type":"quantitative","scale":{"domain":[266.2,353.8]},"axis":{"orient":"bottom","ticks":false,"labels":false,"title":["PAYLOAD","WEIGHT"],"titleColor":"#1e1e1e","titleFontSize":16,"titleLineHeight":23,"titleY":62}}}}],
 "resolve":{"axis":{"x":"independent"}}},
{"width":185,"height":106.6,"transform":[{"filter":"datum.r=='ES'&&datum.c=='FC'"}],
 "encoding":{"x":{"field":"x","type":"quantitative","scale":{"domain":[122.8,172.1]},"axis":{"values":[125,130,135,140,145,150,155,160,165,170],"format":"d","labelExpr":"datum.value%10==0?datum.label:''","tickSize":{"condition":{"test":"datum.value%10==0","value":10},"value":6},"title":"147.5","titleColor":"#ee4466","titleY":40}},"y":{"field":"y","type":"quantitative","scale":{"domain":[14.58,20.9]},"axis":null},"detail":{"field":"k"},"color":{"condition":[{"test":"datum.k=='fit'","value":"#1c1c1c"},{"test":"datum.k=='vline'||datum.k=='hline'","value":"#ee4466"}],"value":"#5b84f0"},"strokeDash":{"condition":{"test":"datum.k=='fit'","value":[1,0]},"value":[2,6]}},
 "layer":[{"mark":"line"},{"transform":[{"filter":"datum.k=='vline'"}],"mark":"line","encoding":{"x":{"field":"x","type":"quantitative","scale":{"domain":[122.8,172.1]},"axis":{"orient":"bottom","ticks":false,"labels":false,"title":["FUEL","CAPACITY"],"titleColor":"#1e1e1e","titleFontSize":16,"titleLineHeight":23,"titleY":62}}}}],
 "resolve":{"axis":{"x":"independent"}}},
{"width":185,"height":106.6,"transform":[{"filter":"datum.r=='ES'&&datum.c=='RA'"}],
 "encoding":{"x":{"field":"x","type":"quantitative","scale":{"domain":[3953,5047]},"axis":{"values":[4000,4200,4400,4600,4800,5000],"format":"d","tickSize":10,"title":"4433","titleColor":"#ee4466","titleY":62}},"y":{"field":"y","type":"quantitative","scale":{"domain":[14.58,20.9]},"axis":null},"detail":{"field":"k"},"color":{"condition":[{"test":"datum.k=='fit'","value":"#1c1c1c"},{"test":"datum.k=='vline'||datum.k=='hline'","value":"#ee4466"}],"value":"#5b84f0"},"strokeDash":{"condition":{"test":"datum.k=='fit'","value":[1,0]},"value":[2,6]}},
 "layer":[{"mark":"line"},{"transform":[{"filter":"datum.k=='vline'"}],"mark":"line","encoding":{"x":{"field":"x","type":"quantitative","scale":{"domain":[3953,5047]},"axis":{"orient":"bottom","ticks":false,"labels":false,"title":"RANGE","titleColor":"#1e1e1e","titleFontSize":16,"titleY":85}}}}],
 "resolve":{"axis":{"x":"independent"}}},
{"width":185,"height":106.6,"transform":[{"filter":"datum.r=='ES'&&datum.c=='SH'"}],
 "encoding":{"x":{"field":"x","type":"quantitative","scale":{"domain":[22180,48240]},"axis":{"values":[25000,27500,30000,32500,35000,37500,40000,42500,45000,47500],"format":"d","labelExpr":"datum.value%5000==0?datum.label:''","tickSize":{"condition":{"test":"datum.value%5000==0","value":10},"value":6},"title":"35250","titleColor":"#ee4466","titleY":62}},"y":{"field":"y","type":"quantitative","scale":{"domain":[14.58,20.9]},"axis":null},"detail":{"field":"k"},"color":{"condition":[{"test":"datum.k=='fit'","value":"#1c1c1c"},{"test":"datum.k=='vline'||datum.k=='hline'","value":"#ee4466"}],"value":"#5b84f0"},"strokeDash":{"condition":{"test":"datum.k=='fit'","value":[1,0]},"value":[2,6]}},
 "layer":[{"mark":"line"},{"transform":[{"filter":"datum.k=='vline'"}],"mark":"line","encoding":{"x":{"field":"x","type":"quantitative","scale":{"domain":[22180,48240]},"axis":{"orient":"bottom","ticks":false,"labels":false,"title":"SHP","titleColor":"#1e1e1e","titleFontSize":16,"titleY":85}}}}],
 "resolve":{"axis":{"x":"independent"}}}
],
"config":{
 "view":{"stroke":"#262626","strokeWidth":1.5},
 "line":{"strokeWidth":2},
 "axis":{"domain":false,"grid":false,"labelFont":"Liberation Sans","labelColor":"#1e1e1e","tickColor":"#2a2a2a","tickWidth":1.5,"labelPadding":2,"titleFont":"Liberation Sans","titleFontWeight":"normal","titleFontSize":17},
 "axisY":{"labelFontSize":16,"titleAngle":270,"titleBaseline":"middle","titleAlign":"center"},
 "axisX":{"labelFontSize":15,"labelAngle":270,"titleBaseline":"top","titleAlign":"center"},
 "title":{"font":"Liberation Sans","fontSize":16,"fontWeight":"normal","color":"#1e1e1e","subtitleFont":"Liberation Sans","subtitleFontSize":17,"subtitleColor":"#ee4466","subtitlePadding":12,"lineHeight":20}
}
}
